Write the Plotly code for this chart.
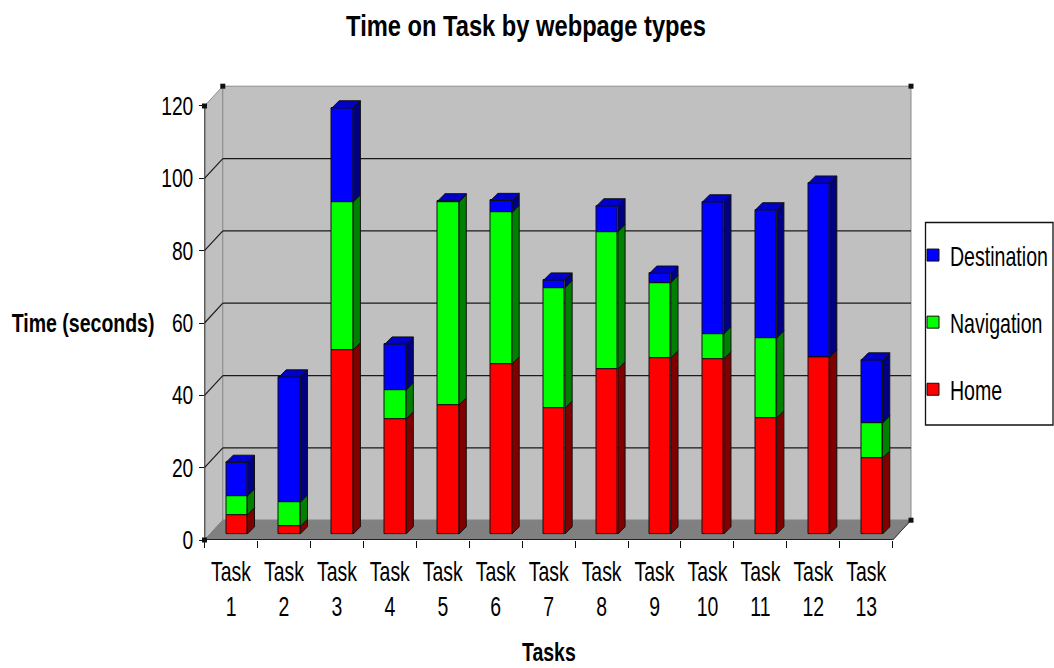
import plotly.graph_objects as go

categories = ["Task<br>%d" % i for i in range(1, 14)]
home = [5.3, 2.1, 50.9, 31.8, 35.7, 47.0, 34.8, 45.6, 48.7, 48.4, 32.1, 48.9, 21.0]
navigation = [5.2, 6.7, 40.9, 8.0, 56.1, 41.9, 33.3, 38.0, 20.8, 6.9, 22.1, 0.0, 9.7]
destination = [9.3, 34.6, 26.0, 12.7, 0.3, 3.3, 2.1, 7.1, 2.6, 36.5, 35.4, 48.1, 17.4]
y_ticks = [0, 20, 40, 60, 80, 100, 120]

W, H = 1054, 668
FONT = "Liberation Sans, Arial, sans-serif"
X0, X1 = 204.5, 892.7
Y0, Y120 = 540.0, 106.0
UX = (X1 - X0) / 13.0
UY = (Y0 - Y120) / 120.0
WALL_DX = 18.3 / UX
WALL_DY = 19.8 / UY
BAR_W = 21.3 / UX
BAR_SHIFT_X = 5.7 / UX
BAR_SHIFT_Y = 6.0 / UY
BAR_DX = 7.2 / UX
BAR_DY = 7.2 / UY
XMIN, XMAX = 0.5, 13.5 + WALL_DX + 0.02
YMAX = 120 + WALL_DY + 0.3

fig = go.Figure()
pos = [i + 1 + BAR_SHIFT_X for i in range(13)]


def faces(bottoms, tops, color, name):
    xs, ys = [], []
    for p, b, t in zip(pos, bottoms, tops):
        r = p + BAR_W / 2
        xs += [r, r + BAR_DX, r + BAR_DX, r, r, None]
        ys += [b, b + BAR_DY, t + BAR_DY, t, b, None]
    fig.add_trace(go.Scatter(x=xs, y=ys, mode="lines", fill="toself", fillcolor=color,
                             line=dict(color="#101010", width=1), cliponaxis=False,
                             showlegend=False, hoverinfo="skip", name=name))


series = [("Home", home, "#FF0000", "#800000", 3),
          ("Navigation", navigation, "#00FF00", "#008000", 2),
          ("Destination", destination, "#0000FF", "#000080", 1)]
cum = [BAR_SHIFT_Y] * 13
for name, vals, col, side, rank in series:
    tops = [c + v for c, v in zip(cum, vals)]
    fig.add_trace(go.Bar(x=pos, y=vals, base=cum, width=BAR_W, name=name, legendgroup=name,
                         legendrank=rank,
                         marker=dict(color=col, line=dict(color="#101010", width=1))))
    faces(cum, tops, side, name + " side")
    cum = tops

# top caps
xs, ys = [], []
for p, t in zip(pos, cum):
    l, r = p - BAR_W / 2, p + BAR_W / 2
    xs += [l, l + BAR_DX, r + BAR_DX, r, l, None]
    ys += [t, t + BAR_DY, t + BAR_DY, t, t, None]
fig.add_trace(go.Scatter(x=xs, y=ys, mode="lines", fill="toself", fillcolor="#0000C8",
                         line=dict(color="#101010", width=1), cliponaxis=False,
                         showlegend=False, hoverinfo="skip"))

# axis lines and corner handles
fig.add_trace(go.Scatter(x=[XMIN, XMIN, 13.5], y=[120, 0, 0], mode="lines",
                         line=dict(color="#000000", width=1.5), cliponaxis=False,
                         showlegend=False, hoverinfo="skip"))
fig.add_trace(go.Scatter(x=[XMIN, XMIN + WALL_DX, 13.5 + WALL_DX, 13.5 + WALL_DX, XMIN],
                         y=[120, 120 + WALL_DY, 120 + WALL_DY, WALL_DY, 0],
                         mode="markers", marker=dict(symbol="square", size=5, color="#111111"),
                         cliponaxis=False, showlegend=False, hoverinfo="skip"))

shapes = []
bx0, bx1 = XMIN + WALL_DX, 13.5 + WALL_DX
# walls and floor
shapes.append(dict(type="path", layer="below", xref="x", yref="y", fillcolor="#C0C0C0",
                   line=dict(color="#8C8C8C", width=1),
                   path=f"M {XMIN} 0 L {bx0} {WALL_DY} L {bx0} {120 + WALL_DY} L {XMIN} 120 Z"))
shapes.append(dict(type="path", layer="below", xref="x", yref="y", fillcolor="#C0C0C0",
                   line=dict(color="#8C8C8C", width=1),
                   path=f"M {bx0} {WALL_DY} L {bx1} {WALL_DY} L {bx1} {120 + WALL_DY} L {bx0} {120 + WALL_DY} Z"))
shapes.append(dict(type="path", layer="below", xref="x", yref="y", fillcolor="#808080",
                   line=dict(color="#808080", width=1),
                   path=f"M {XMIN} 0 L {13.5} 0 L {bx1} {WALL_DY} L {bx0} {WALL_DY} Z"))
for v in y_ticks[1:-1]:
    shapes.append(dict(type="line", layer="below", xref="x", yref="y", x0=XMIN, y0=v,
                       x1=bx0, y1=v + WALL_DY, line=dict(color="#1A1A1A", width=1.2)))
    shapes.append(dict(type="line", layer="below", xref="x", yref="y", x0=bx0, y0=v + WALL_DY,
                       x1=bx1, y1=v + WALL_DY, line=dict(color="#1A1A1A", width=1.2)))
shapes.append(dict(type="line", layer="below", xref="x", yref="y", x0=13.5, y0=0,
                   x1=bx1, y1=WALL_DY, line=dict(color="#333333", width=1)))
# legend box
shapes.append(dict(type="rect", layer="below", xref="paper", yref="paper",
                   x0=925.5 / W, x1=1053 / W, y0=1 - 425 / H, y1=1 - 222.5 / H,
                   fillcolor="#FFFFFF", line=dict(color="#111111", width=1.3)))

annotations = [
    dict(text="<b>Time (seconds)</b>", x=83 / W, y=1 - 323 / H, xref="paper", yref="paper",
         showarrow=False, xanchor="center", yanchor="middle",
         font=dict(size=26, color="#000000", family=FONT)),
    dict(text="<b>Tasks</b>", x=549 / W, y=1 - 652 / H, xref="paper", yref="paper",
         showarrow=False, xanchor="center", yanchor="middle",
         font=dict(size=26, color="#000000", family=FONT)),
]

fig.update_layout(
    width=W, height=H, margin=dict(l=0, r=0, t=0, b=0, autoexpand=False),
    paper_bgcolor="#FFFFFF", plot_bgcolor="rgba(0,0,0,0)",
    barmode="overlay", bargap=0,
    font=dict(family=FONT, color="#000000", size=25),
    title=dict(text="<b>Time on Task by webpage types</b>", x=526 / W, xanchor="center",
               y=1 - 26 / H, yanchor="middle", font=dict(size=30, family=FONT, color="#000000")),
    xaxis=dict(domain=[X0 / W, (X0 + (XMAX - XMIN) * UX) / W], range=[XMIN, XMAX],
               tickmode="array", tickvals=list(range(1, 14)), ticktext=categories, tickangle=0,
               ticks="outside", ticklen=8, tickcolor="rgba(0,0,0,0)", showgrid=False,
               zeroline=False, showline=False, tickfont=dict(size=27, family=FONT),
               minor=dict(tickmode="array", tickvals=[i + 0.5 for i in range(14)], ticks="outside",
                          ticklen=7, tickwidth=1, tickcolor="#111111", showgrid=False)),
    yaxis=dict(domain=[1 - Y0 / H, 1 - (Y0 - YMAX * UY) / H], range=[0, YMAX],
               tickmode="array", tickvals=y_ticks, ticks="outside", ticklen=5, tickwidth=1,
               tickcolor="#111111", showgrid=False, zeroline=False, showline=False,
               tickfont=dict(size=26, family=FONT)),
    shapes=shapes, annotations=annotations,
    legend=dict(x=913 / W, y=1 - 231 / H, xanchor="left", yanchor="top", traceorder="grouped",
                bgcolor="rgba(0,0,0,0)", borderwidth=0, entrywidth=100, entrywidthmode="pixels",
                font=dict(size=27, family=FONT), tracegroupgap=29, itemwidth=30),
)

# The reference lettering is tall and condensed; no narrow face is installed,
# so each real text element is squeezed horizontally about its own anchor.
post = """
(function () {
  var gd = document.getElementById('{plot_id}');
  document.body.style.margin = '0';
  document.documentElement.style.overflow = 'hidden';
  function squeeze(sel, f, dx) {
    gd.querySelectorAll(sel).forEach(function (t) {
      if (t.dataset.sq) return;
      t.dataset.sq = '1';
      var b = t.getBBox();
      var a = getComputedStyle(t).textAnchor;
      var cx = a === 'end' ? b.x + b.width : a === 'middle' ? b.x + b.width / 2 : b.x;
      var old = t.getAttribute('transform') || '';
      t.setAttribute('transform', old + ' translate(' + (cx + dx) + ' 0) scale(' + f + ' 1) translate(' + (-cx) + ' 0)');
    });
  }
  function run() {
    squeeze('.gtitle', 0.79, 0);
    squeeze('.annotation-text', 0.75, 0);
    squeeze('.xtick text', 0.72, 0);
    squeeze('.ytick text', 0.74, 0);
    squeeze('.legendtext', 0.725, -3);
  }
  run();
  setTimeout(run, 30);
})();
"""
fig.write_html("out.html", config=dict(displayModeBar=False), post_script=post)
